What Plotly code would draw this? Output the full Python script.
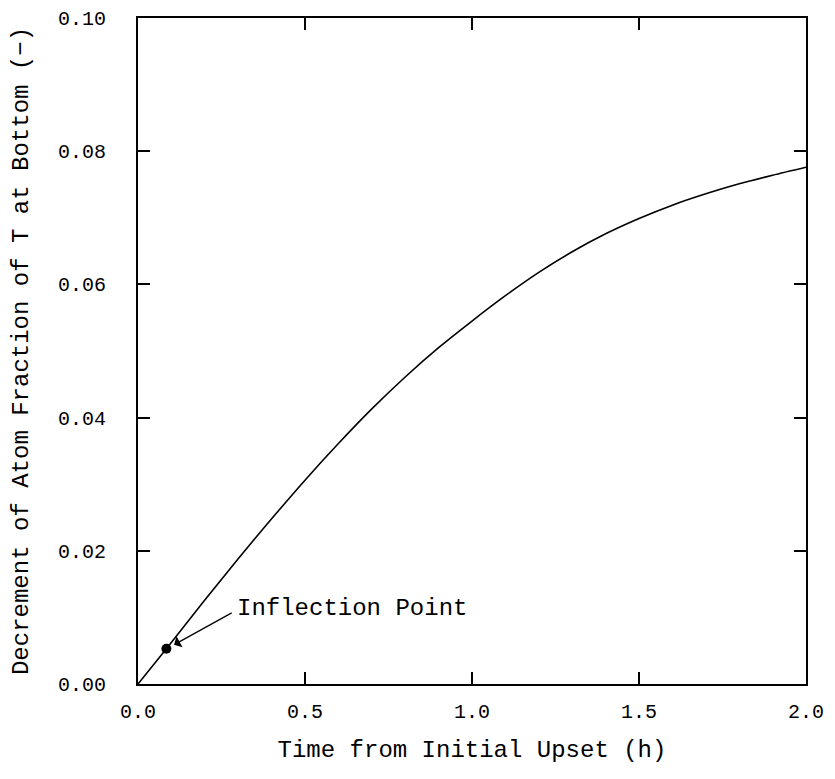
import plotly.graph_objects as go

# Data
time_h = [0.0, 0.085, 0.2, 0.3, 0.4, 0.5, 0.6, 0.7, 0.8, 0.9, 1.0, 1.1, 1.2,
          1.3, 1.4, 1.5, 1.6, 1.7, 1.8, 1.9, 2.0]
decrement = [0.0, 0.0053, 0.0126, 0.0188, 0.0248, 0.0306, 0.0361, 0.0413,
             0.0461, 0.0505, 0.0545, 0.0583, 0.0618, 0.0649, 0.0676, 0.0699,
             0.0719, 0.0736, 0.0751, 0.0764, 0.0776]
inflection_x = [0.085]
inflection_y = [0.0053]
x_ticks = [0.0, 0.5, 1.0, 1.5, 2.0]
x_tick_labels = ["0.0", "0.5", "1.0", "1.5", "2.0"]
y_ticks = [0.00, 0.02, 0.04, 0.06, 0.08, 0.10]
y_tick_labels = ["0.00", "0.02", "0.04", "0.06", "0.08", "0.10"]

FONT = "Liberation Mono"

fig = go.Figure()
fig.add_trace(go.Scatter(x=time_h, y=decrement, mode="lines",
                         line=dict(color="black", width=1.6, shape="spline",
                                   smoothing=0.8),
                         showlegend=False, hoverinfo="skip"))
fig.add_trace(go.Scatter(x=inflection_x, y=inflection_y, mode="markers",
                         marker=dict(color="black", size=10),
                         showlegend=False, hoverinfo="skip"))

# arrow
fig.add_annotation(x=0.108, y=0.0059, ax=0.285, ay=0.0108,
                   xref="x", yref="y", axref="x", ayref="y",
                   text="", showarrow=True, arrowhead=1, arrowsize=1.6,
                   arrowwidth=1.3, arrowcolor="black")
# label
fig.add_annotation(x=0.291, y=0.0114, xref="x", yref="y",
                   text="Inflection Point", showarrow=False,
                   xanchor="left", yanchor="middle",
                   font=dict(family=FONT, size=24, color="black"))

axis_common = dict(showline=True, linecolor="black", linewidth=1.8,
                   mirror="ticks", ticks="inside", ticklen=12, tickwidth=1.5,
                   tickcolor="black", showgrid=False, zeroline=False,
                   automargin=False, ticklabeloverflow="allow",
                   tickfont=dict(family=FONT, size=20, color="black"))

fig.update_xaxes(range=[0, 2.0], tickvals=x_ticks, ticktext=x_tick_labels,
                 title=dict(text="Time from Initial Upset (h)",
                            font=dict(family=FONT, size=24, color="black"),
                            standoff=17),
                 ticklabelstandoff=8, **axis_common)
fig.update_yaxes(range=[0, 0.10], tickvals=y_ticks, ticktext=y_tick_labels,
                 title=dict(text="Decrement of Atom Fraction of T at Bottom (\u2212)",
                            font=dict(family=FONT, size=24, color="black"),
                            standoff=30),
                 ticklabelstandoff=26, **axis_common)

# page body has an 8px margin, so the figure is sized to fit the window
fig.update_layout(width=827, height=771, plot_bgcolor="white",
                  paper_bgcolor="white",
                  margin=dict(l=130, r=29, t=10, b=95))

fig.write_html("out.html")
